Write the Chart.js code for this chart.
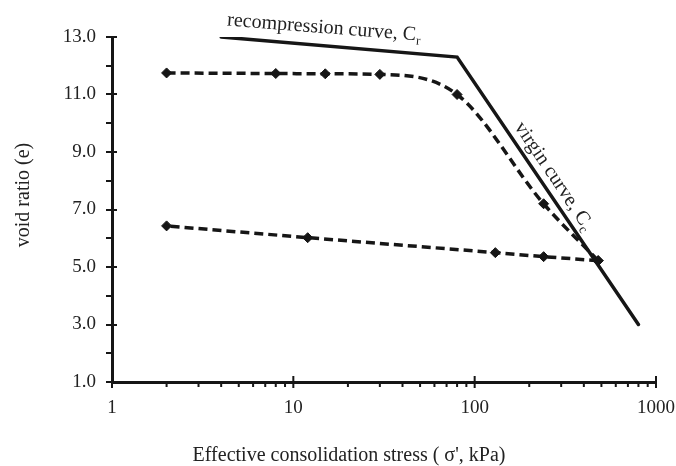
<!DOCTYPE html>
<html><head><meta charset="utf-8">
<script src="https://cdn.jsdelivr.net/npm/chart.js@4.4.1/dist/chart.umd.min.js"></script>
<style>html,body{margin:0;padding:0;background:#fff;}#wrap{width:676px;height:466px;position:relative;}</style>
</head><body><div id="wrap"><canvas id="c" width="676" height="466"></canvas></div>
<script>
// ---- data ----
const loadingStress = [2, 8, 15, 30, 80, 240, 480];
const loadingVoid = [11.75, 11.73, 11.72, 11.70, 11.0, 7.2, 5.22];
const unloadingStress = [480, 240, 130, 12, 2];
const unloadingVoid = [5.22, 5.36, 5.5, 6.02, 6.43];
const idealStress = [4, 80, 800];
const idealVoid = [13.0, 12.3, 3.0];
const xTickValues = [1, 10, 100, 1000];
const yTickValues = [1, 3, 5, 7, 9, 11, 13];
const xTitle = "Effective consolidation stress ( σ', kPa)";
const yTitle = "void ratio (e)";
const recompLabel = ["recompression curve, C", "r"];
const virginLabel = ["virgin curve, C", "c"];

const INK = '#161616';
const TXT = '#222';
const FONT = 'Liberation Serif';

const toPts = (xs, ys) => xs.map((x, i) => ({x: x, y: ys[i]}));

const extras = {
  id: 'extras',
  afterDraw(chart) {
    const ctx = chart.ctx, xs = chart.scales.x, ys = chart.scales.y;
    const ca = chart.chartArea;
    ctx.save();
    ctx.strokeStyle = INK;
    ctx.lineWidth = 2;
    ctx.beginPath();
    // y ticks: majors cross axis, minors left only
    for (let v = 1; v <= 13; v++) {
      const py = Math.round(ys.getPixelForValue(v));
      const major = yTickValues.includes(v);
      ctx.moveTo(ca.left - 6, py);
      ctx.lineTo(major ? ca.left + 5 : ca.left, py);
    }
    // x ticks
    for (let d = 0; d < 3; d++) {
      for (let k = 2; k <= 9; k++) {
        const px = xs.getPixelForValue(k * Math.pow(10, d));
        ctx.moveTo(px, ca.bottom);
        ctx.lineTo(px, ca.bottom + 5);
      }
    }
    xTickValues.forEach(v => {
      const px = xs.getPixelForValue(v);
      ctx.moveTo(px, ca.bottom - 6);
      ctx.lineTo(px, ca.bottom + 6);
    });
    ctx.stroke();

    // axis titles
    ctx.fillStyle = TXT;
    ctx.font = '20px "' + FONT + '"';
    ctx.textAlign = 'center';
    ctx.textBaseline = 'middle';
    ctx.fillText(xTitle, 349, 456);
    ctx.save();
    ctx.translate(24, 195);
    ctx.rotate(-Math.PI / 2);
    ctx.fillText(yTitle, 0, 0);
    ctx.restore();

    // rotated annotations
    function label(parts, xv, yv, deg) {
      ctx.save();
      ctx.translate(xs.getPixelForValue(xv), ys.getPixelForValue(yv));
      ctx.rotate(deg * Math.PI / 180);
      ctx.textAlign = 'left';
      ctx.textBaseline = 'alphabetic';
      ctx.font = '20px "' + FONT + '"';
      ctx.fillText(parts[0], 0, 0);
      const w = ctx.measureText(parts[0]).width;
      ctx.font = '13px "' + FONT + '"';
      ctx.fillText(parts[1], w + 0.5, 4);
      ctx.restore();
    }
    label(recompLabel, 4.3, 13.4, 4.5);
    label(virginLabel, 165, 9.87, 56);
    ctx.restore();
  }
};

new Chart(document.getElementById('c'), {
  type: 'line',
  data: {
    datasets: [
      {
        data: toPts(idealStress, idealVoid),
        borderColor: INK, borderWidth: 3.5, pointRadius: 0, tension: 0,
        borderCapStyle: 'round', borderJoinStyle: 'miter'
      },
      {
        data: toPts(loadingStress, loadingVoid),
        borderColor: INK, borderWidth: 3.5, borderDash: [9, 5],
        pointStyle: 'rectRot', pointRadius: 5, pointBackgroundColor: INK, pointBorderColor: INK, pointBorderWidth: 1,
        cubicInterpolationMode: 'monotone'
      },
      {
        data: toPts(unloadingStress, unloadingVoid),
        borderColor: INK, borderWidth: 3.5, borderDash: [9, 5],
        pointStyle: 'rectRot', pointRadius: 5, pointBackgroundColor: INK, pointBorderColor: INK, pointBorderWidth: 1,
        tension: 0
      }
    ]
  },
  options: {
    responsive: false,
    animation: false,
    devicePixelRatio: 1,
    layout: {padding: {top: 37, right: 20, left: 0, bottom: 0}},
    plugins: {legend: {display: false}, tooltip: {enabled: false}},
    scales: {
      x: {
        type: 'logarithmic', min: 1, max: 1000,
        afterBuildTicks: s => { s.ticks = xTickValues.map(v => ({value: v, major: true})); },
        afterFit: s => { s.height = 84; s.paddingLeft = 0; s.paddingRight = 0; },
        grid: {display: false, drawTicks: false},
        border: {display: true, color: INK, width: 3},
        ticks: {
          callback: v => String(v), autoSkip: false, maxRotation: 0,
          font: {family: FONT, size: 19}, color: TXT, padding: 15
        }
      },
      y: {
        type: 'linear', min: 1, max: 13,
        afterBuildTicks: s => { s.ticks = yTickValues.map(v => ({value: v})); },
        afterFit: s => { s.width = 112; s.paddingTop = 0; s.paddingBottom = 0; },
        grid: {display: false, drawTicks: false},
        border: {display: true, color: INK, width: 3},
        ticks: {
          callback: v => Number(v).toFixed(1),
          font: {family: FONT, size: 19}, color: TXT, padding: 16
        }
      }
    }
  },
  plugins: [extras]
});
</script>
</body></html>
